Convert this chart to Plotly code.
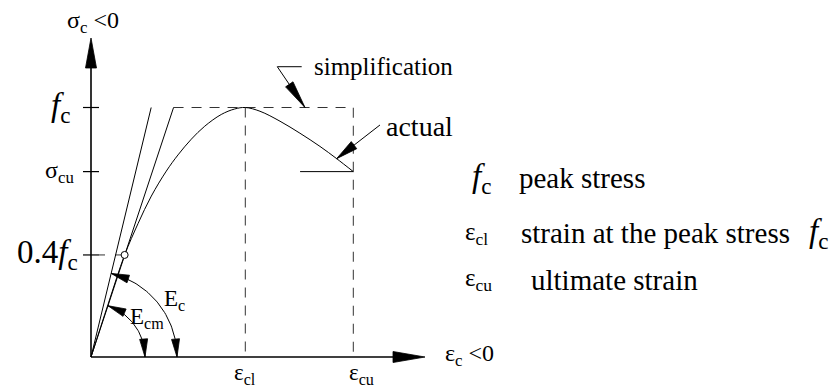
#%%
import numpy as np
import plotly.graph_objects as go

# strain in units of eps_c1, stress in units of f_c
eps_c1 = 1.0
eps_cu = 1.70
f_c = 1.0
sigma_cu = 0.743
f_04 = 0.409

# the "actual" curve
strain_curve = [0, 0.11, 0.218, 0.305, 0.391, 0.488, 0.564, 0.650, 0.737, 0.844,
                0.931, 1.0, 1.095, 1.225, 1.354, 1.484, 1.592, 1.700]
stress_curve = [0, 0.21, 0.409, 0.535, 0.645, 0.745, 0.810, 0.873, 0.925, 0.972,
                0.994, 1.0, 0.985, 0.945, 0.897, 0.844, 0.795, 0.743]

# tangent (E_c) and secant (E_cm) lines, strain where they reach f_c
strain_Ec_top = 0.39
strain_Ecm_top = 0.535
sigma_cu_line_start = 1.355

# %%
# pixel scale of the drawing
W, H = 838, 387
OX, OY = 91, 357
PX_X, PX_Y = 154.3, 249.5
x_range = [-OX / PX_X, (W - OX) / PX_X]
y_range = [-(H - OY) / PX_Y, OY / PX_Y]

FONT = "Liberation Serif"
BLACK = "black"

fig = go.Figure()


def line(xs, ys, width=1.0, dash=None, color=BLACK):
    fig.add_trace(go.Scatter(x=xs, y=ys, mode="lines", hoverinfo="skip",
                             line=dict(color=color, width=width, dash=dash)))


def head(tx, ty, fx, fy, length=18, half=4):
    # filled arrow head, tip at (tx,ty), coming from (fx,fy)
    dx, dy = (tx - fx) * PX_X, (ty - fy) * PX_Y
    n = np.hypot(dx, dy)
    ux, uy = dx / n, dy / n
    bx, by = tx * PX_X - ux * length, ty * PX_Y - uy * length
    px_pts = [(tx * PX_X, ty * PX_Y), (bx - uy * half, by + ux * half),
              (bx + uy * half, by - ux * half), (tx * PX_X, ty * PX_Y)]
    fig.add_trace(go.Scatter(x=[p[0] / PX_X for p in px_pts], y=[p[1] / PX_Y for p in px_pts],
                             mode="lines", fill="toself", fillcolor=BLACK, hoverinfo="skip",
                             line=dict(color=BLACK, width=0.8)))


def arc(r, a_top, n=50):
    a = np.linspace(a_top, 0, n)
    return r * np.cos(a) / PX_X, r * np.sin(a) / PX_Y


# axes with arrows
y_tip, y_base = 38, 68
x_tip, x_base = 425, 393
line([0, 0], [0, (OY - y_base) / PX_Y], width=1.6)
head(0, (OY - y_tip) / PX_Y, 0, 0, length=y_base - y_tip, half=5.5)
line([0, (x_base - OX) / PX_X], [0, 0], width=1.6)
head((x_tip - OX) / PX_X, 0, 0, 0, length=x_tip - x_base, half=5.5)

# ticks on stress axis
tick = 8 / PX_X
for s in [f_c, sigma_cu, f_04]:
    line([-tick, tick], [s, s], width=1.2)

# dashed guides
DASH = "10px,8px"
GUIDE = "#333333"
line([strain_Ecm_top, eps_cu, eps_cu, eps_cu], [f_c, f_c, sigma_cu, 0], dash=DASH, color=GUIDE)
line([eps_c1, eps_c1], [f_c, 0], dash=DASH, color=GUIDE)
line([tick, strain_curve[2]], [f_04, f_04], dash="6px,10px", color=GUIDE)
line([sigma_cu_line_start, eps_cu], [sigma_cu, sigma_cu])

# moduli lines and curve
line([0, strain_Ec_top], [0, f_c])
line([0, strain_Ecm_top], [0, f_c])
fig.add_trace(go.Scatter(x=strain_curve, y=stress_curve, mode="lines", hoverinfo="skip",
                         line=dict(color=BLACK, width=1.0, shape="spline", smoothing=1.0)))
fig.add_trace(go.Scatter(x=[strain_curve[2]], y=[stress_curve[2]], mode="markers", hoverinfo="skip",
                         marker=dict(size=7, color="white", line=dict(color=BLACK, width=1))))

# moduli arcs
for top, r in [(strain_Ec_top, 86), (strain_Ecm_top, 54)]:
    a_top = np.arctan2(f_c * PX_Y, top * PX_X)
    ax_, ay_ = arc(r, a_top)
    line(ax_, ay_)
    head(ax_[0], ay_[0], ax_[6], ay_[6], length=18, half=4)
    head(ax_[-1], ay_[-1], ax_[-7], ay_[-7], length=18, half=4)

# leader arrows
simp_x = [1.3655, 1.2074, 1.387]
simp_y = [1.1635, 1.1635, f_c]
line(simp_x, simp_y)
head(simp_x[2], simp_y[2], simp_x[1], simp_y[1], length=28, half=4.5)
act_x = [1.873, strain_curve[16]]
act_y = [0.93, stress_curve[16]]
line(act_x, act_y)
head(act_x[1], act_y[1], act_x[0], act_y[0], length=22, half=4.5)

# %%
annos = [
    (0.013, 1.343, "σ<sub>c</sub> <0", "center", 24),
    (-0.123, f_c, "<i>f</i><sub>c</sub>", "right", 33),
    (-0.097, sigma_cu, "σ<sub>cu</sub>", "right", 24),
    (-0.071, f_04, "0.4<i>f</i><sub>c</sub>", "right", 33),
    (eps_c1, -0.07, "ε<sub>cl</sub>", "center", 23),
    (1.756, -0.07, "ε<sub>cu</sub>", "center", 23),
    (2.281, 0.008, "ε<sub>c</sub> <0", "left", 24),
    (0.46, 0.228, "E<sub>c</sub>", "left", 23),
    (0.24, 0.156, "E<sub>cm</sub>", "left", 23),
    (1.432, 1.166, "simplification", "left", 25),
    (1.899, 0.922, "actual", "left", 28),
    (2.456, 0.717, "<i>f</i><sub>c</sub>", "left", 33),
    (2.761, 0.717, "peak stress", "left", 29),
    (2.411, 0.497, "ε<sub>cl</sub>", "left", 25),
    (2.774, 0.497, "strain at the peak stress", "left", 29),
    (4.640, 0.497, "<i>f</i><sub>c</sub>", "left", 33),
    (2.411, 0.309, "ε<sub>cu</sub>", "left", 25),
    (2.839, 0.309, "ultimate strain", "left", 29),
]
for x, y, t, xa, sz in annos:
    fig.add_annotation(x=x, y=y, text=t, showarrow=False, xanchor=xa, yanchor="middle",
                       font=dict(family=FONT, size=sz, color=BLACK))

fig.update_layout(width=W, height=H, margin=dict(l=0, r=0, t=0, b=0),
                  plot_bgcolor="white", paper_bgcolor="white", showlegend=False)
fig.update_xaxes(range=x_range, visible=False, fixedrange=True)
fig.update_yaxes(range=y_range, visible=False, fixedrange=True)
# page body margin off so the figure sits at the window corner
fig.write_html("out.html", config={"displayModeBar": False},
               post_script="document.body.style.margin='0';")
